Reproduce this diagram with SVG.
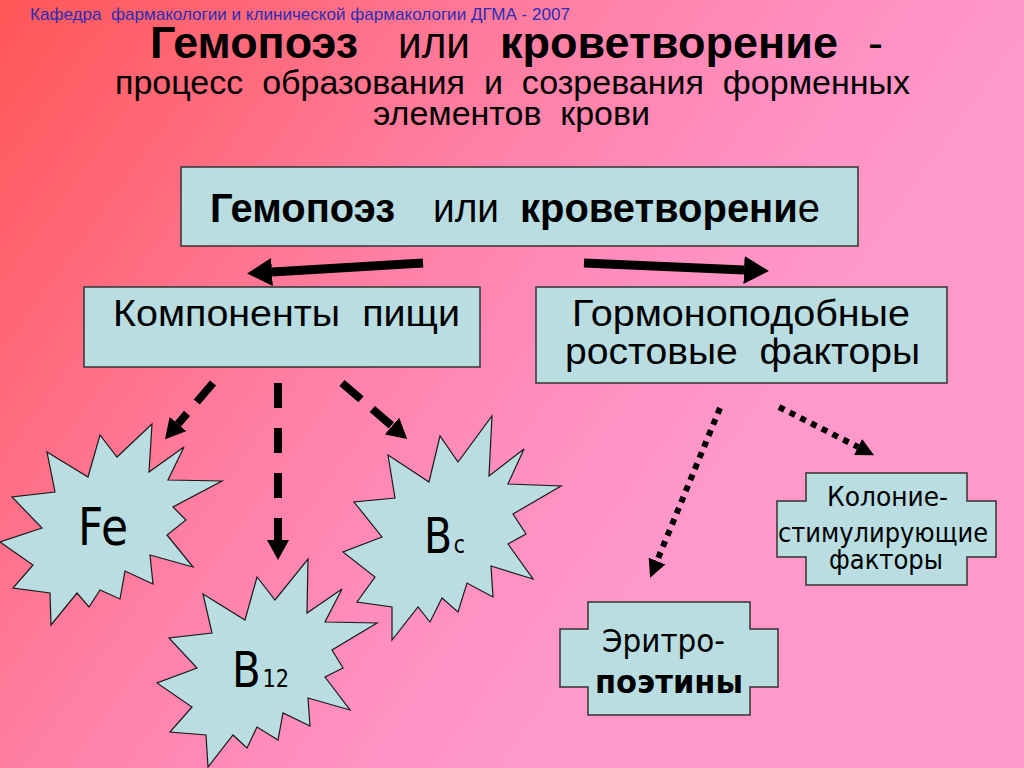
<svg xmlns="http://www.w3.org/2000/svg" width="1024" height="768" viewBox="0 0 1024 768">
<defs>
<linearGradient id="bg" gradientUnits="userSpaceOnUse" x1="0" y1="0" x2="700" y2="500">
<stop offset="0" stop-color="#ff5656"/>
<stop offset="0.3" stop-color="#ff6c80"/>
<stop offset="0.55" stop-color="#ff80a6"/>
<stop offset="0.8" stop-color="#ff8fc0"/>
<stop offset="1" stop-color="#ff98cb"/>
</linearGradient>
<marker id="ahBig" viewBox="0 -14 25 28" refX="0" refY="0" markerWidth="25" markerHeight="28" markerUnits="userSpaceOnUse" orient="auto">
<path d="M0,-14 L25,0 L0,14 z" fill="#000"/>
</marker>
<marker id="ahDash" viewBox="0 -11 20 22" refX="0" refY="0" markerWidth="20" markerHeight="22" markerUnits="userSpaceOnUse" orient="auto">
<path d="M0,-11 L20,0 L0,11 z" fill="#000"/>
</marker>
<marker id="ahDot" viewBox="0 -9 18 18" refX="0" refY="0" markerWidth="18" markerHeight="18" markerUnits="userSpaceOnUse" orient="auto">
<path d="M0,-9 L18,0 L0,9 z" fill="#000"/>
</marker>
</defs>
<style>
.box{fill:#b9dde1;stroke:#333;stroke-width:1.5}
.star{fill:#b9dde1;stroke:#1a1a1a;stroke-width:1.2;stroke-linejoin:miter}
.sans{font-family:"Liberation Sans",Arial,sans-serif;fill:#000}
.tah{font-family:"DejaVu Sans",Verdana,sans-serif;fill:#000}
.b{font-weight:bold}
.thick{stroke:#000;stroke-width:9;fill:none}
.dash{stroke:#000;stroke-width:8;fill:none;stroke-dasharray:25 15}
.dot{stroke:#000;stroke-width:6;fill:none;stroke-dasharray:6 6}
</style>
<rect x="0" y="0" width="1024" height="768" fill="url(#bg)"/>

<g id="header">
<text class="sans" x="30" y="20" font-size="17" style="fill:#2c2cb4" textLength="540" lengthAdjust="spacingAndGlyphs" xml:space="preserve">Кафедра  фармакологии и клинической фармакологии ДГМА - 2007</text>
</g>

<g id="title">
<text class="sans b" x="150" y="58" font-size="45" textLength="208" lengthAdjust="spacingAndGlyphs">Гемопоэз</text>
<text class="sans" x="398" y="58" font-size="45" textLength="72" lengthAdjust="spacingAndGlyphs">или</text>
<text class="sans" x="500" y="58" font-size="45" textLength="338" lengthAdjust="spacingAndGlyphs" font-weight="bold">кроветворение</text>
<text class="sans" x="868" y="58" font-size="45">-</text>
<text class="sans" x="115" y="94" font-size="34" textLength="795" lengthAdjust="spacingAndGlyphs" xml:space="preserve">процесс  образования  и  созревания  форменных</text>
<text class="sans" x="373" y="125" font-size="34" textLength="277" lengthAdjust="spacingAndGlyphs" xml:space="preserve">элементов  крови</text>
</g>

<g id="node-hemopoiesis">
<rect class="box" x="181" y="167" width="677" height="79"/>
<text class="sans b" x="210" y="222" font-size="40" textLength="185" lengthAdjust="spacingAndGlyphs">Гемопоэз</text>
<text class="sans" x="433" y="222" font-size="40" textLength="66" lengthAdjust="spacingAndGlyphs">или</text>
<text class="sans" x="520" y="222" font-size="40" lengthAdjust="spacingAndGlyphs" textLength="300"><tspan font-weight="bold">кроветворени</tspan>е</text>
</g>

<g id="node-food">
<rect class="box" x="84" y="287" width="396" height="80"/>
<text class="sans" x="113" y="326" font-size="37" textLength="347" lengthAdjust="spacingAndGlyphs" xml:space="preserve">Компоненты  пищи</text>
</g>

<g id="node-hormone">
<rect class="box" x="536" y="287" width="411" height="96"/>
<text class="sans" x="572" y="326" font-size="37" textLength="338" lengthAdjust="spacingAndGlyphs">Гормоноподобные</text>
<text class="sans" x="565" y="364" font-size="37" textLength="355" lengthAdjust="spacingAndGlyphs" xml:space="preserve">ростовые  факторы</text>
</g>

<g id="node-fe">
<polygon class="star" points="51,625 50,593 13,588 33,565 0,542 42,528 12,497 55,492 47,452 88,477 100,435 117,457 152,424 149,472 184,447 168,480 222,481 173,507 186,520 167,535 193,567 150,555 153,584 125,571 120,599 100,590 89,607 77,593"/>
<text class="tah" x="78" y="545" font-size="52" textLength="50" lengthAdjust="spacingAndGlyphs">Fe</text>
</g>

<g id="node-b12">
<polygon class="star" points="308,559 307,613 342,589 325,622 377,623 332,650 343,668 325,677 350,710 308,698 310,726 283,713 278,740 257,727 247,748 233,735 208,767 206,735 170,732 192,707 157,683 197,668 169,638 212,633 203,594 245,620 257,577 275,600"/>
<text class="tah" x="232" y="687" font-size="50" textLength="57" lengthAdjust="spacingAndGlyphs">B<tspan font-size="25" dx="2">12</tspan></text>
</g>

<g id="node-bc">
<polygon class="star" points="388,455 429,482 440,436 458,462 492,416 489,476 524,449 508,484 561,486 513,514 526,534 508,544 533,579 491,566 493,597 467,583 458,612 442,598 430,622 418,607 392,640 392,607 357,602 375,577 343,552 382,537 354,502 395,498"/>
<text class="tah" x="424" y="553" font-size="50" textLength="41" lengthAdjust="spacingAndGlyphs">B<tspan font-size="25" dx="2">c</tspan></text>
</g>

<g id="node-erythro">
<polygon class="box" points="588,602 750,602 750,629 778,629 778,687 750,687 750,715 588,715 588,687 560,687 560,629 588,629"/>
<text class="tah" x="602" y="652" font-size="32" textLength="123" lengthAdjust="spacingAndGlyphs">Эритро-</text>
<text class="tah b" x="595" y="693" font-size="32" textLength="148" lengthAdjust="spacingAndGlyphs">поэтины</text>
</g>

<g id="node-colony">
<polygon class="box" points="806,473 967,473 967,501 996,501 996,557 967,557 967,585 806,585 806,557 777,557 777,501 806,501"/>
<text class="tah" x="827" y="506" font-size="27" textLength="121" lengthAdjust="spacingAndGlyphs">Колоние-</text>
<text class="tah" x="778" y="542" font-size="27" textLength="210" lengthAdjust="spacingAndGlyphs">стимулирующие</text>
<text class="tah" x="829" y="569" font-size="27" textLength="114" lengthAdjust="spacingAndGlyphs">факторы</text>
</g>

<g id="connectors">
<line class="thick" x1="423" y1="263" x2="272" y2="272" marker-end="url(#ahBig)"/>
<line class="thick" x1="584" y1="263" x2="744" y2="270" marker-end="url(#ahBig)"/>
<line class="dash" x1="213" y1="383" x2="178" y2="424" marker-end="url(#ahDash)"/>
<line class="dash" x1="278" y1="383" x2="278" y2="540" style="stroke-dasharray:25 20" marker-end="url(#ahDash)"/>
<line class="dash" x1="342" y1="383" x2="392" y2="426" marker-end="url(#ahDash)"/>
<line class="dot" x1="720" y1="408" x2="657" y2="561" marker-end="url(#ahDot)"/>
<line class="dot" x1="779" y1="407" x2="858" y2="447" marker-end="url(#ahDot)"/>
</g>
</svg>
